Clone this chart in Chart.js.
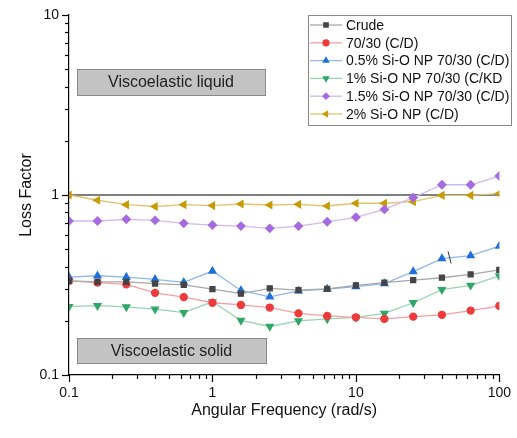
<!DOCTYPE html>
<html>
<head>
<meta charset="utf-8">
<script src="https://cdn.jsdelivr.net/npm/chart.js@4"></script>
<style>
  html, body { margin: 0; padding: 0; background: #fff; }
  #wrap { width: 517px; height: 438px; }
</style>
</head>
<body>
<div id="wrap"><canvas id="lossChart"></canvas></div>
<script>
// Angular frequency (rad/s), 5 points per decade
const freq = [0.1, 0.158, 0.251, 0.398, 0.631, 1, 1.58, 2.51, 3.98, 6.31, 10, 15.8, 25.1, 39.8, 63.1, 100];

// Loss factor
const crude   = [0.333, 0.329, 0.329, 0.322, 0.317, 0.300, 0.283, 0.303, 0.296, 0.301, 0.315, 0.326, 0.337, 0.347, 0.362, 0.384];
const mix7030 = [0.333, 0.326, 0.319, 0.286, 0.271, 0.252, 0.245, 0.237, 0.220, 0.213, 0.209, 0.205, 0.211, 0.216, 0.228, 0.242];
const np05    = [0.350, 0.356, 0.350, 0.340, 0.327, 0.378, 0.295, 0.272, 0.293, 0.300, 0.310, 0.322, 0.375, 0.443, 0.460, 0.520];
const np1     = [0.240, 0.243, 0.239, 0.232, 0.222, 0.255, 0.201, 0.186, 0.200, 0.205, 0.209, 0.220, 0.252, 0.298, 0.315, 0.355];
const np15    = [0.717, 0.717, 0.733, 0.723, 0.696, 0.681, 0.672, 0.653, 0.672, 0.710, 0.752, 0.832, 0.966, 1.14, 1.14, 1.275];
const np2     = [1.0, 0.935, 0.884, 0.863, 0.884, 0.873, 0.891, 0.880, 0.887, 0.869, 0.900, 0.900, 0.918, 0.996, 0.996, 1.017];

const seriesNames = ['Crude', '70/30 (C/D)', '0.5% Si-O NP 70/30 (C/D)', '1% Si-O NP 70/30 (C/KD', '1.5% Si-O NP 70/30 (C/D)', '2% Si-O NP (C/D)'];
const seriesData = [crude, mix7030, np05, np1, np15, np2];
const markerColors = ['#454545', '#ee3a3a', '#1e6fd9', '#2fa866', '#a66ae0', '#c79a06'];
const lineColors = ['#a8a8a8', '#f7a0a0', '#8fb8ee', '#96d4b0', '#d4b6f2', '#e0c46e'];
const pointStyles = ['rect', 'circle', 'triangle', 'triangle', 'rectRot', 'triangle'];
const pointRotations = [0, 0, 0, 180, 0, -90];
const pointSizes = [3.5, 3.5, 4, 4, 4, 4];

// major tick labels; minor ticks at 2..9 in each decade
const xTicks = [0.1, 1, 10, 100];
const yTicks = [0.1, 1, 10];

const FONT = "'Liberation Sans', Arial, sans-serif";

const datasets = seriesNames.map((name, i) => ({
    label: name,
    data: freq.map((f, j) => ({ x: f, y: seriesData[i][j] })),
    borderColor: lineColors[i],
    backgroundColor: markerColors[i],
    pointBackgroundColor: markerColors[i],
    pointBorderColor: markerColors[i],
    pointStyle: pointStyles[i],
    rotation: pointRotations[i],
    pointRadius: pointSizes[i],
    borderWidth: 1.3,
    tension: 0
}));

// every 1..9 multiple between the first and last major tick
function logTicks(majors) {
    const out = [];
    for (let i = 0; i < majors.length - 1; i++) {
        for (let k = 1; k <= 9; k++) out.push(+(majors[i] * k).toPrecision(3));
    }
    out.push(majors[majors.length - 1]);
    return out;
}

function isMajor(v) {
    const l = Math.log10(v);
    return Math.abs(l - Math.round(l)) < 1e-6;
}

// extras: y=1 reference line, annotation boxes, legend, tick marks
const extrasPlugin = {
    id: 'extras',
    beforeDatasetsDraw(chart) {
        const { ctx, chartArea, scales } = chart;
        const y1 = scales.y.getPixelForValue(1);
        ctx.save();
        ctx.strokeStyle = '#555';
        ctx.lineWidth = 1.3;
        ctx.beginPath();
        ctx.moveTo(chartArea.left, y1);
        ctx.lineTo(chartArea.right, y1);
        ctx.stroke();

        // annotation boxes
        const boxes = [
            { text: 'Viscoelastic liquid', x: 77, y: 69, w: 188, h: 26 },
            { text: 'Viscoelastic solid', x: 77, y: 338, w: 189, h: 25 }
        ];
        boxes.forEach(b => {
            ctx.fillStyle = '#c3c3c3';
            ctx.strokeStyle = '#8a8a8a';
            ctx.lineWidth = 1;
            ctx.fillRect(b.x, b.y, b.w, b.h);
            ctx.strokeRect(b.x + 0.5, b.y + 0.5, b.w, b.h);
            ctx.fillStyle = '#222';
            ctx.font = '16px ' + FONT;
            ctx.textAlign = 'center';
            ctx.textBaseline = 'middle';
            ctx.fillText(b.text, b.x + b.w / 2, b.y + b.h / 2 + 1);
        });
        ctx.restore();
    },
    afterDraw(chart) {
        const { ctx, chartArea, scales } = chart;
        ctx.save();
        // tick marks, outward: majors 7px, minors 4px
        ctx.strokeStyle = '#000';
        ctx.lineWidth = 1.2;
        logTicks(xTicks).forEach(v => {
            const px = Math.round(scales.x.getPixelForValue(v)) + 0.5;
            const len = isMajor(v) ? 7 : 4;
            ctx.beginPath();
            ctx.moveTo(px, chartArea.bottom);
            ctx.lineTo(px, chartArea.bottom + len);
            ctx.stroke();
        });
        logTicks(yTicks).forEach(v => {
            const py = Math.round(scales.y.getPixelForValue(v)) + 0.5;
            const len = isMajor(v) ? 7 : 4;
            ctx.beginPath();
            ctx.moveTo(chartArea.left, py);
            ctx.lineTo(chartArea.left - len, py);
            ctx.stroke();
        });

        // small break mark on the 0.5% line
        const bx = scales.x.getPixelForValue(45);
        const by = scales.y.getPixelForValue(0.45);
        ctx.strokeStyle = '#333';
        ctx.lineWidth = 1;
        ctx.beginPath();
        ctx.moveTo(bx - 1.5, by - 6);
        ctx.lineTo(bx + 1.5, by + 6);
        ctx.stroke();

        // legend
        const lx = 308, ly = 15, lw = 203, lh = 110;
        ctx.fillStyle = '#fff';
        ctx.fillRect(lx, ly, lw, lh);
        ctx.strokeStyle = '#888';
        ctx.lineWidth = 1;
        ctx.strokeRect(lx + 0.5, ly + 0.5, lw, lh);
        ctx.font = '14px ' + FONT;
        ctx.textAlign = 'left';
        ctx.textBaseline = 'middle';
        seriesNames.forEach((name, i) => {
            const rowY = ly + 10 + i * 17.8;
            ctx.strokeStyle = lineColors[i];
            ctx.lineWidth = 1.3;
            ctx.beginPath();
            ctx.moveTo(lx + 2, rowY);
            ctx.lineTo(lx + 34, rowY);
            ctx.stroke();
            ctx.fillStyle = markerColors[i];
            ctx.strokeStyle = markerColors[i];
            Chart.helpers.drawPoint(ctx, {
                pointStyle: pointStyles[i],
                rotation: pointRotations[i],
                radius: 3,
                borderWidth: 1
            }, lx + 18, rowY);
            ctx.fillStyle = '#111';
            ctx.fillText(name, lx + 38, rowY + 1);
        });
        ctx.restore();
    }
};

const ctx = document.getElementById('lossChart').getContext('2d');

// tick marks themselves come from the plugin; the grid only keeps spacing
const hiddenGrid = { display: true, drawOnChartArea: false, drawTicks: true, tickLength: 4, color: 'rgba(0,0,0,0)' };

new Chart(ctx, {
    type: 'line',
    data: { datasets: datasets },
    options: {
        responsive: true,
        maintainAspectRatio: false,
        animation: false,
        layout: { padding: { top: 15, right: 17, left: 17, bottom: 18 } },
        scales: {
            x: {
                type: 'logarithmic',
                min: 0.1,
                max: 100,
                border: { display: true, color: '#000', width: 1.2 },
                grid: hiddenGrid,
                ticks: {
                    autoSkip: false,
                    maxRotation: 0,
                    color: '#111',
                    padding: 6,
                    font: { family: FONT, size: 14 },
                    callback: (v) => isMajor(v) ? String(Number(v)) : ''
                },
                title: {
                    display: true,
                    text: 'Angular Frequency (rad/s)',
                    color: '#111',
                    font: { family: FONT, size: 16 },
                    padding: { top: 6, bottom: 0 }
                },
                afterFit: (scale) => { scale.height = 45; }
            },
            y: {
                type: 'logarithmic',
                min: 0.1,
                max: 10,
                border: { display: true, color: '#000', width: 1.2 },
                grid: hiddenGrid,
                ticks: {
                    autoSkip: false,
                    color: '#111',
                    padding: 6,
                    font: { family: FONT, size: 14 },
                    callback: (v) => isMajor(v) ? String(Number(v)) : ''
                },
                title: {
                    display: true,
                    text: 'Loss Factor',
                    color: '#111',
                    font: { family: FONT, size: 16 },
                    padding: { top: 0, bottom: 4 }
                },
                afterFit: (scale) => { scale.width = 52; }
            }
        },
        plugins: {
            legend: { display: false },
            tooltip: { enabled: false }
        }
    },
    plugins: [extrasPlugin]
});
</script>
</body>
</html>
